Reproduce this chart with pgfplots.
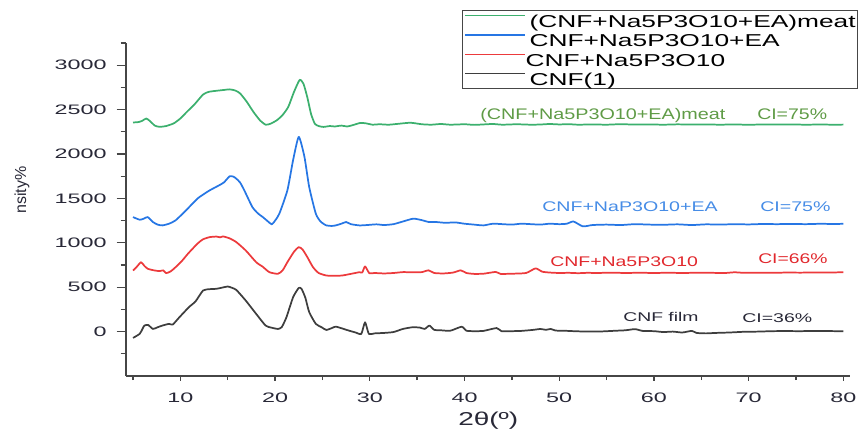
\documentclass[border=0pt]{standalone}
\usepackage{fontspec}
\setmainfont{Liberation Sans}
\usepackage{graphicx}
\usepackage{pgfplots}
\pgfplotsset{compat=1.18}
\definecolor{cgreen}{RGB}{60,176,110}
\definecolor{cblue}{RGB}{38,118,228}
\definecolor{cred}{RGB}{236,58,60}
\definecolor{cblack}{RGB}{62,62,62}
\definecolor{tgreen}{RGB}{95,155,70}
\definecolor{tblue}{RGB}{70,140,230}
\definecolor{tred}{RGB}{225,40,45}
\definecolor{tblack}{RGB}{40,40,55}
\definecolor{axc}{RGB}{70,70,70}
\begin{document}
\begin{tikzpicture}
\path[use as bounding box] (0,0) rectangle (645.75pt,322.5pt);
\begin{axis}[
  at={(94.5pt,40.5pt)}, anchor=south west,
  scale only axis, width=543pt, height=249.75pt,
  xmin=4.26, xmax=80.7, ymin=-500, ymax=3250,
  axis lines*=left,
  axis line style={axc, line width=1.5pt},
  tick align=outside,
  tick style={axc, line width=1pt},
  major tick length=7pt, minor tick length=4pt,
  xtick style={/pgfplots/major tick length=3.5pt, /pgfplots/minor tick length=3pt},
  xtick={10,20,...,80}, minor xtick={5,15,...,75},
  ytick={0,500,...,3000}, minor ytick={-250,250,...,3250},
  scaled y ticks=false,
  xticklabel={\scalebox{1.7}[1]{\pgfmathprintnumber[assume math mode=true,1000 sep={}]{\tick}}},
  yticklabel={\scalebox{1.7}[1]{\pgfmathprintnumber[assume math mode=true,1000 sep={}]{\tick}}},
  tick label style={font=\fontsize{10.3}{12}\selectfont, text=tblack},
  yticklabel style={xshift=-4pt},
  xticklabel style={yshift=-2pt},
  legend style={at={(0.464,1.099)}, anchor=north west, draw=axc, line width=0.8pt, fill=white,
    inner xsep=1.5pt, inner ysep=0.8pt, font=\fontsize{12.9}{14}\selectfont,
    nodes={inner sep=0pt, text height=12pt, text depth=1pt, anchor=west},
    row sep=1.5pt, column sep=3pt},
  legend cell align=left,
  legend image code/.code={\draw[#1] (0pt,3.5pt) -- (45pt,3.5pt);},
  legend image post style={line width=0.8pt},
  every axis plot/.append style={line width=1.3pt, line join=round, mark=none, smooth, tension=0.35},
]
\addplot[cgreen] coordinates {
(5,2355) (5.6,2360) (6.0,2375) (6.4,2400) (6.8,2370) (7.3,2320) (7.8,2306) (8.5,2315) (9.3,2345)
(10.0,2400) (10.7,2476) (11.5,2560) (12.4,2670) (13.0,2700) (13.8,2712) (14.5,2720) (15.2,2728)
(15.8,2715) (16.3,2683) (17.0,2590) (17.7,2476) (18.4,2380) (19.0,2330) (19.5,2340) (20.2,2381)
(20.8,2440) (21.4,2532) (22.0,2700) (22.6,2835) (23.0,2790) (23.4,2640) (23.8,2450) (24.2,2340)
(24.6,2315) (25.1,2305) (25.8,2315) (26.3,2310) (27.0,2320) (27.6,2310) (28.2,2325) (29.0,2350) (29.6,2345)
(30.3,2330) (31,2335) (32,2330) (33,2340) (34.3,2352) (35.5,2335) (36.5,2330) (37.5,2338)
(38.5,2330) (40,2335) (41,2328) (42,2333) (43,2338) (44,2330) (45.5,2335) (47,2330) (48,2332)
(49,2338) (50,2333) (51,2336) (52,2330) (53.5,2333) (55,2330) (56.5,2336) (58,2331) (59.5,2333)
(61,2330) (62.5,2334) (64,2331) (65.5,2333) (67,2330) (68.5,2333) (70,2329) (71.5,2333) (73,2331)
(74.5,2333) (76,2330) (77.5,2332) (79,2330) (80,2331)};
\addlegendentry{\scalebox{1.53}[1]{(CNF+Na5P3O10+EA)meat}}
\addplot[cblue] coordinates {
(5,1290) (5.7,1260) (6.1,1270) (6.55,1290) (7.1,1234) (7.6,1205) (8.1,1196) (8.8,1215) (9.5,1253)
(10.6,1366) (11.8,1497) (12.5,1550) (13.1,1591) (14.1,1648) (14.6,1680) (15.2,1749) (15.6,1745)
(15.9,1723) (16.3,1680) (16.75,1591) (17.6,1403) (18.2,1330) (18.7,1290) (19.2,1245) (19.65,1208)
(20.0,1250) (20.45,1328) (21.3,1591) (21.9,1930) (22.5,2193) (23.1,1968) (23.6,1629) (24.3,1328)
(24.8,1240) (25.4,1196) (26.0,1190) (26.4,1196) (27.0,1215) (27.5,1234) (28.0,1210) (28.9,1196)
(29.7,1200) (30.7,1208) (31.5,1200) (32.5,1210) (33.5,1240) (34.6,1272) (35.5,1255) (36.2,1235)
(37,1234) (38,1225) (39,1230) (40,1215) (41,1205) (42,1196) (43,1215) (44,1210) (45,1205)
(46,1215) (47,1210) (48,1205) (49,1215) (50,1210) (50.8,1215) (51.5,1240) (52.5,1185) (53.5,1200)
(55,1205) (56.5,1200) (58,1210) (59.5,1205) (61,1203) (62.5,1208) (64,1200) (65.5,1208) (67,1205)
(68.5,1210) (70,1207) (71.5,1212) (73,1210) (74.5,1213) (76,1210) (77.5,1214) (79,1212) (80,1214)};
\addlegendentry{\scalebox{1.53}[1]{CNF+Na5P3O10+EA}}
\addplot[cred] coordinates {
(5,688) (5.4,730) (5.85,782) (6.2,740) (6.55,708) (7.2,690) (7.8,681) (8.2,690) (8.5,658) (9.0,680)
(9.5,726) (10.2,800) (10.8,877) (11.8,990) (12.4,1040) (13.1,1064) (13.8,1070) (14.2,1062)
(14.5,1072) (15.2,1050) (15.9,1008) (16.9,914) (18.0,782) (18.7,730) (19.4,669) (20.3,651)
(20.8,690) (21.3,782) (22.0,900) (22.5,951) (22.9,925) (23.4,840) (24.0,726) (24.6,660) (25.4,632) (26.3,628)
(27.1,632) (28,650) (28.9,669) (29.2,665) (29.5,734) (29.95,658) (30.5,660) (31.5,655) (32.5,660)
(33.5,670) (34.5,668) (35.5,670) (36.2,690) (36.8,660) (37.8,655) (38.8,665) (39.6,690) (40.2,660)
(41,650) (42,652) (43.3,672) (43.8,650) (45,652) (46.5,660) (47.5,712) (48.2,675) (49,665) (50,660)
(51,662) (52,658) (53,662) (54,660) (55.5,664) (57,660) (58.5,663) (60,660) (61.5,663) (63,660)
(64.5,663) (66,662) (67.5,660) (68.5,668) (69.5,662) (71,664) (72.5,662) (74,665) (75.5,664)
(77,666) (78.5,665) (80,669)};
\addlegendentry{\hspace*{-3pt}\scalebox{1.53}[1]{CNF+Na5P3O10}}
\addplot[cblack] coordinates {
(5,-71) (5.7,-26) (6.0,30) (6.2,68) (6.6,75) (7.1,30) (7.6,49) (8.1,68) (8.8,87) (9.2,80) (9.9,162)
(10.9,275) (11.6,340) (12.4,463) (13.1,478) (13.8,482) (14.4,495) (15.0,508) (15.4,495) (15.9,470)
(16.9,350) (18.0,200) (19.0,68) (19.6,45) (20.3,30) (20.7,50) (21.2,162) (21.9,387) (22.5,492)
(22.8,480) (23.2,380) (23.6,220) (24.3,87) (24.9,50) (25.4,19) (26.0,40) (26.4,56) (27.1,35) (27.8,11)
(28.5,-10) (29.1,-26) (29.5,105) (29.9,-26) (30.5,-20) (31.5,-15) (32.5,-5) (33.5,30) (34.5,49)
(35.3,45) (35.8,30) (36.3,68) (36.8,20) (37.5,15) (38.5,10) (39.7,55) (40.2,10) (41,5) (42,8)
(43.4,40) (43.9,5) (45,5) (46,8) (47.3,20) (48,30) (48.6,20) (49.1,30) (49.6,12) (50.5,10) (51.5,5)
(53,0) (54.5,2) (56,10) (57,15) (58,28) (58.8,8) (60,5) (61,-5) (62,0) (63,-10) (64,8) (64.5,-15)
(65.5,-20) (66.5,-15) (68,-10) (69.5,-2) (71,0) (72.5,5) (74,6) (75.5,5) (77,8) (78.5,6) (80,4)};
\addlegendentry{\scalebox{1.53}[1]{CNF(1)}}
\end{axis}
% annotations
\node[anchor=base west, inner sep=0pt, text=tgreen, font=\fontsize{11.5}{13}\selectfont] at (360pt,233pt) {\scalebox{1.29}[1]{(CNF+Na5P3O10+EA)meat}};
\node[anchor=base west, inner sep=0pt, text=tgreen, font=\fontsize{11.5}{13}\selectfont] at (567.75pt,233pt) {\scalebox{1.27}[1]{CI=75\%}};
\node[anchor=base west, inner sep=0pt, text=tblue, font=\fontsize{10.5}{12}\selectfont] at (406.5pt,163.7pt) {\scalebox{1.4}[1]{CNF+NaP3O10+EA}};
\node[anchor=base west, inner sep=0pt, text=tblue, font=\fontsize{10.5}{12}\selectfont] at (570pt,164.25pt) {\scalebox{1.4}[1]{CI=75\%}};
\node[anchor=base west, inner sep=0pt, text=tred, font=\fontsize{10.5}{12}\selectfont] at (412.5pt,122.5pt) {\scalebox{1.39}[1]{CNF+Na5P3O10}};
\node[anchor=base west, inner sep=0pt, text=tred, font=\fontsize{10.5}{12}\selectfont] at (568.5pt,125pt) {\scalebox{1.38}[1]{CI=66\%}};
\node[anchor=base west, inner sep=0pt, text=tblack, font=\fontsize{9.5}{11}\selectfont] at (467.25pt,81.25pt) {\scalebox{1.53}[1]{CNF film}};
\node[anchor=base west, inner sep=0pt, text=tblack, font=\fontsize{9.5}{11}\selectfont] at (556.5pt,80.75pt) {\scalebox{1.54}[1]{CI=36\%}};
\node[anchor=base west, inner sep=0pt, text=tblack, font=\fontsize{14}{16}\selectfont] at (343.5pt,3.75pt) {\scalebox{1.5}[1]{2θ(º)}};
\node[rotate=90, inner sep=0pt, text=tblack, font=\fontsize{12}{14}\selectfont] at (16.5pt,180pt) {nsity\%};
\end{tikzpicture}
\end{document}
